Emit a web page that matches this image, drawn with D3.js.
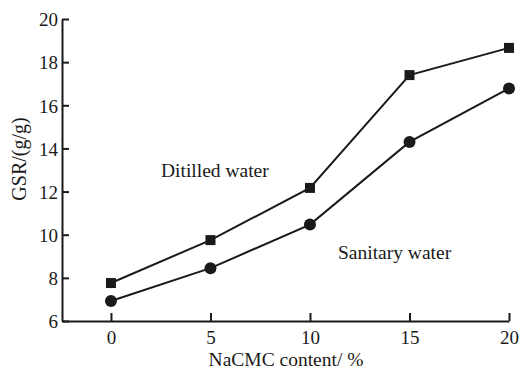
<!DOCTYPE html>
<html>
<head>
<meta charset="utf-8">
<script src="https://cdn.jsdelivr.net/npm/d3@7"></script>
<style>
  html, body { margin: 0; padding: 0; background: #fff; }
</style>
</head>
<body>
<svg id="chart" width="522" height="370"></svg>
<script>
// NaCMC content (%) and gel swelling ratio in two media
const nacmc = [0, 5, 10, 15, 20];
const distilled = [7.76, 9.75, 12.17, 17.4, 18.66];
const sanitary = [6.93, 8.45, 10.47, 14.3, 16.78];
const xTicks = [0, 5, 10, 15, 20];
const yTicks = [6, 8, 10, 12, 14, 16, 18, 20];

const serif = "'Liberation Serif', 'DejaVu Serif', 'Times New Roman', serif";
const ink = "#1a1a1a";

const svg = d3.select("#chart")
  .attr("font-family", serif);
const plot = { left: 62, right: 509, top: 19, bottom: 321 };

const x = d3.scaleLinear().domain([-2.46, 20]).range([plot.left, plot.right]);
const y = d3.scaleLinear().domain([6, 20]).range([plot.bottom, plot.top]);

// x axis, ticks pointing inward
const gx = svg.append("g").attr("transform", `translate(0,${plot.bottom})`)
  .call(d3.axisBottom(x).tickValues(xTicks).tickSizeInner(-8).tickSizeOuter(0).tickPadding(10));
gx.attr("font-family", serif).attr("font-size", 19);
gx.select(".domain").attr("stroke", ink).attr("stroke-width", 2);
gx.selectAll(".tick line").attr("stroke", ink).attr("stroke-width", 2);
gx.selectAll(".tick text").attr("fill", ink);

// y axis, ticks pointing inward
const gy = svg.append("g").attr("transform", `translate(${plot.left},0)`)
  .call(d3.axisLeft(y).tickValues(yTicks).tickSizeInner(-7).tickSizeOuter(0).tickPadding(4));
gy.attr("font-family", serif).attr("font-size", 19);
gy.select(".domain").attr("stroke", ink).attr("stroke-width", 2);
gy.selectAll(".tick line").attr("stroke", ink).attr("stroke-width", 2);
gy.selectAll(".tick text").attr("fill", ink).attr("dy", "0.36em");

// axis titles
svg.append("text").attr("x", 286).attr("y", 366)
  .attr("text-anchor", "middle").attr("font-size", 19.5).attr("fill", ink).text("NaCMC content/ %");
svg.append("text").attr("transform", "translate(26,159) rotate(-90)")
  .attr("text-anchor", "middle").attr("font-size", 20).attr("fill", ink).text("GSR/(g/g)");

const line = d3.line().x((d, i) => x(nacmc[i])).y(d => y(d));

// distilled water series: squares
svg.append("path").datum(distilled).attr("d", line)
  .attr("fill", "none").attr("stroke", ink).attr("stroke-width", 2);
svg.selectAll(".sq").data(distilled).join("rect").attr("class", "sq")
  .attr("x", (d, i) => x(nacmc[i]) - 5).attr("y", d => y(d) - 5)
  .attr("width", 10).attr("height", 10).attr("fill", ink);

// sanitary water series: circles
svg.append("path").datum(sanitary).attr("d", line)
  .attr("fill", "none").attr("stroke", ink).attr("stroke-width", 2);
svg.selectAll(".dot").data(sanitary).join("circle").attr("class", "dot")
  .attr("cx", (d, i) => x(nacmc[i])).attr("cy", d => y(d)).attr("r", 6).attr("fill", ink);

// series annotations
svg.append("text").attr("x", 161).attr("y", 177).attr("font-size", 19.5).attr("fill", ink).text("Ditilled water");
svg.append("text").attr("x", 338).attr("y", 259).attr("font-size", 19.5).attr("fill", ink).text("Sanitary water");
</script>
</body>
</html>
